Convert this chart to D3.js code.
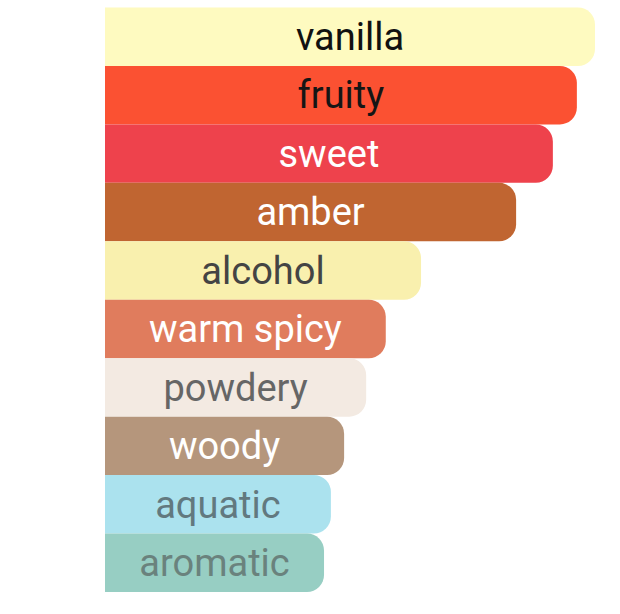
<!DOCTYPE html>
<html>
<head>
<meta charset="utf-8">
<script src="https://cdn.jsdelivr.net/npm/d3@7"></script>
<style>
  html, body { margin: 0; padding: 0; background: #fff; }
  svg { display: block; }
</style>
</head>
<body>
<svg width="620" height="614"></svg>
<script>
const accords = ['vanilla', 'fruity', 'sweet', 'amber', 'alcohol', 'warm spicy', 'powdery', 'woody', 'aquatic', 'aromatic'];
const strength = [100, 96.3, 91.4, 83.9, 64.5, 57.3, 53.3, 48.8, 46.1, 44.7];
const barColors = ['#fefac0', '#fb5132', '#ee424c', '#c06531', '#f9f0ae', '#e07c5d', '#f3eae2', '#b5967c', '#abe2ee', '#97cec3'];
const textColors = ['#111111', '#151515', '#ffffff', '#ffffff', '#444444', '#ffffff', '#666666', '#ffffff', '#62797f', '#6a827d'];

const svg = d3.select('svg');

const marginLeft = 105;
const marginTop = 7.5;
const barBand = 58.45;
const radius = 17;
const fontSize = 38;

const x = d3.scaleLinear()
  .domain([0, 100])
  .range([0, 490]);

const y = d3.scaleBand()
  .domain(accords)
  .range([marginTop, marginTop + barBand * accords.length])
  .padding(0);

const rows = accords.map((name, i) => ({
  name,
  value: strength[i],
  fill: barColors[i],
  text: textColors[i]
}));

// square on the left, rounded on the right
const barPath = d => {
  const x0 = marginLeft;
  const x1 = marginLeft + x(d.value);
  const y0 = y(d.name);
  const y1 = y0 + y.bandwidth();
  const r = radius;
  return `M${x0},${y0}H${x1 - r}A${r},${r} 0 0 1 ${x1},${y0 + r}` +
    `V${y1 - r}A${r},${r} 0 0 1 ${x1 - r},${y1}H${x0}Z`;
};

const g = svg.append('g');

g.selectAll('path.bar')
  .data(rows)
  .join('path')
    .attr('class', 'bar')
    .attr('d', barPath)
    .attr('fill', d => d.fill);

g.selectAll('text.label')
  .data(rows)
  .join('text')
    .attr('class', 'label')
    .attr('x', d => marginLeft + x(d.value) / 2)
    .attr('y', d => y(d.name) + y.bandwidth() / 2)
    .attr('dy', '0.35em')
    .attr('text-anchor', 'middle')
    .attr('font-family', 'Roboto, sans-serif')
    .attr('font-size', fontSize)
    .attr('fill', d => d.text)
    .text(d => d.name);
</script>
</body>
</html>
